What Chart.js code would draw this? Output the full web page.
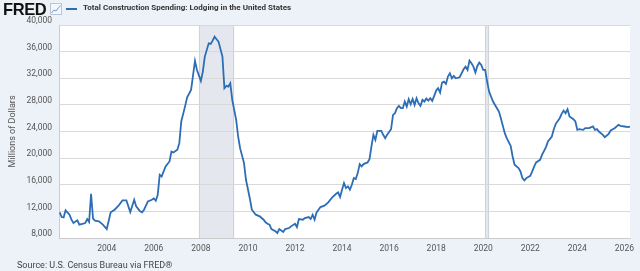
<!DOCTYPE html>
<html>
<head>
<meta charset="utf-8">
<script src="https://cdn.jsdelivr.net/npm/chart.js@4.4.1/dist/chart.umd.min.js"></script>
<style>
    html, body { margin: 0; padding: 0; background: #edf1f8; }
    body { width: 640px; height: 271px; position: relative; overflow: hidden; font-family: Roboto, "Noto Sans", sans-serif; }
    #chartLodging { position: absolute; left: 0; top: 0; }
    .logo { position: absolute; left: 3px; top: 0px; font: bold 16.5px "Liberation Sans", Arial, sans-serif; letter-spacing: -0.4px; color: #111; }
    .icon { position: absolute; left: 50px; top: 3px; }
    .legend-line { position: absolute; left: 66px; top: 8px; width: 11px; height: 2px; background: #2d6db5; }
    .title { position: absolute; left: 83px; top: 3px; font: bold 8px Roboto, sans-serif; color: #333; white-space: nowrap; }
    .source { position: absolute; left: 17px; top: 260px; font: 9px Roboto, sans-serif; color: #444; white-space: nowrap; }
</style>
</head>
<body>
<canvas id="chartLodging" width="640" height="271"></canvas>
<div class="logo">FRED</div>
<svg class="icon" width="12" height="12" viewBox="0 0 12 12">
    <rect x="0.5" y="0.5" width="11" height="11" fill="#f4f7fb" stroke="#b9c6d6"/>
    <polyline points="1.5,10 4,7 6,8 10.5,2.5" fill="none" stroke="#6d9ccf" stroke-width="1"/>
</svg>
<div class="legend-line"></div>
<div class="title">Total Construction Spending: Lodging in the United States</div>
<div class="source">Source: U.S. Census Bureau via FRED®</div>

<script>
const months = [
    "2002-01","2002-02","2002-03","2002-04","2002-06","2002-07","2002-08","2002-10","2002-11",
    "2003-01","2003-02","2003-03","2003-04","2003-05","2003-06","2003-07","2003-09","2003-11",
    "2004-01","2004-03","2004-05","2004-07","2004-09","2004-11",
    "2005-01","2005-03","2005-04","2005-06","2005-07","2005-08","2005-10","2005-12",
    "2006-01","2006-02","2006-03","2006-04","2006-05","2006-07","2006-09","2006-10","2006-11",
    "2007-01","2007-02","2007-03","2007-05","2007-06","2007-08","2007-10","2007-11",
    "2008-01","2008-02","2008-03","2008-05","2008-06","2008-07","2008-08","2008-09","2008-10","2008-12",
    "2009-01","2009-02","2009-03","2009-04","2009-05","2009-07","2009-08","2009-09","2009-11","2009-12",
    "2010-02","2010-03","2010-05","2010-07","2010-09","2010-10","2010-11","2010-12",
    "2011-01","2011-03","2011-04","2011-05","2011-07","2011-08","2011-10","2011-11",
    "2012-01","2012-02","2012-03","2012-05","2012-06","2012-08","2012-09","2012-10","2012-11","2012-12",
    "2013-02","2013-04","2013-06","2013-07","2013-08","2013-10","2013-11","2013-12",
    "2014-01","2014-02","2014-03","2014-04","2014-05","2014-06","2014-07","2014-08","2014-09","2014-10","2014-11","2014-12",
    "2015-02","2015-03","2015-04","2015-05","2015-06","2015-07","2015-09","2015-10","2015-11","2015-12",
    "2016-02","2016-03","2016-04","2016-05","2016-06","2016-07","2016-08","2016-09","2016-10","2016-11","2016-12",
    "2017-01","2017-02","2017-03","2017-04","2017-05","2017-06","2017-07","2017-08","2017-09","2017-10","2017-11","2017-12",
    "2018-01","2018-02","2018-03","2018-04","2018-05","2018-06","2018-07","2018-08","2018-09","2018-10","2018-11",
    "2019-01","2019-03","2019-04","2019-05","2019-06","2019-07","2019-08","2019-09","2019-10","2019-11","2019-12",
    "2020-01","2020-02","2020-03","2020-04","2020-05","2020-06","2020-08","2020-09","2020-10","2020-11","2020-12",
    "2021-01","2021-03","2021-04","2021-05","2021-07","2021-08","2021-09","2021-10","2021-11",
    "2022-01","2022-02","2022-03","2022-04","2022-06","2022-07","2022-09","2022-10","2022-12",
    "2023-01","2023-02","2023-04","2023-05","2023-06","2023-07","2023-08","2023-09","2023-11","2023-12",
    "2024-01","2024-02","2024-04","2024-05","2024-07","2024-09","2024-10","2024-11","2024-12",
    "2025-02","2025-03","2025-05","2025-06","2025-08","2025-10","2025-11",
    "2026-01","2026-03","2026-04"
];

const spending = [
    11850,11150,11100,12150,11500,10750,10250,10650,10000,
    10150,10250,10850,10400,14650,10900,10600,10500,10000,
    9350,11850,12250,12850,13650,13650,
    11900,13750,12750,12000,11850,12250,13500,13750,
    13950,13600,14500,17500,17250,18750,19500,21000,20850,
    21250,22250,25500,27850,29150,30250,34600,33250,
    31600,33000,35250,37250,37150,37650,38250,37850,37500,35250,
    30500,30850,30750,31250,28750,25750,23250,21500,19250,16750,
    13900,12250,11500,11250,10750,10350,10150,10000,
    9350,9000,8750,9350,8900,9350,9500,9750,
    10150,9650,10850,10750,11000,11150,10850,11500,10750,11850,
    12650,12850,13350,13750,14100,14650,14850,14150,
    15250,16250,15500,15750,15250,16000,17000,16850,17750,19100,18750,19100,
    19350,19850,21750,23500,22750,24100,24100,23500,23000,23500,
    24350,26500,26750,27500,27850,27500,27500,28500,27750,28850,28100,
    28900,28000,29000,28250,27850,28750,28500,28950,28650,29000,28600,29350,
    30150,30500,29850,31350,31500,31150,32250,32750,32000,32350,32000,
    32150,33350,33750,33250,34650,34250,33750,32850,33850,34350,34000,
    33250,33250,31500,30000,29250,28500,27500,27000,26000,24850,23750,
    23000,21850,20250,19000,18500,18000,17000,16650,17000,
    17350,18000,18750,19350,19750,20500,21650,22500,23250,
    24350,25150,26000,26650,27150,26750,27350,26250,25850,25500,
    24250,24350,24250,24500,24500,24750,24250,24350,24000,
    23500,23150,23650,24150,24500,25000,24850,
    24750,24650,24750
];

const recessions = [["2007-12", "2009-06"], ["2020-02", "2020-04"]];
const yearTicks = [2004, 2006, 2008, 2010, 2012, 2014, 2016, 2018, 2020, 2022, 2024, 2026];
const yMin = 8000, yMax = 40000, yStep = 4000;

function toYear(m) {
    const [y, mo] = m.split("-").map(Number);
    return y + (mo - 1) / 12;
}

const points = months.map((m, i) => ({ x: toYear(m), y: spending[i] }));

const backdrop = {
    id: "backdrop",
    beforeDraw(chart) {
        const { ctx, chartArea: a, scales } = chart;
        ctx.save();
        ctx.fillStyle = "#ffffff";
        ctx.fillRect(a.left, a.top, a.right - a.left, a.bottom - a.top);
        recessions.forEach(([s, e]) => {
            const x0 = scales.x.getPixelForValue(toYear(s));
            const x1 = scales.x.getPixelForValue(toYear(e));
            ctx.fillStyle = "#e4e7ed";
            ctx.fillRect(x0, a.top, x1 - x0, a.bottom - a.top);
            ctx.strokeStyle = "#cdd1d8";
            ctx.lineWidth = 1;
            ctx.beginPath();
            ctx.moveTo(Math.round(x0) + 0.5, a.top);
            ctx.lineTo(Math.round(x0) + 0.5, a.bottom);
            ctx.moveTo(Math.round(x1) - 0.5, a.top);
            ctx.lineTo(Math.round(x1) - 0.5, a.bottom);
            ctx.stroke();
        });
        ctx.restore();
    }
};

new Chart(document.getElementById("chartLodging"), {
    type: "line",
    data: {
        datasets: [{
            label: "Total Construction Spending: Lodging in the United States",
            data: points,
            borderColor: "#2d6db5",
            borderWidth: 1.8,
            pointRadius: 0,
            tension: 0,
            fill: false
        }]
    },
    options: {
        responsive: false,
        animation: false,
        events: [],
        layout: { padding: { left: 0, top: 25, right: 6, bottom: 0 } },
        plugins: {
            legend: { display: false },
            tooltip: { enabled: false }
        },
        scales: {
            x: {
                type: "linear",
                min: 2001.97,
                max: 2026.24,
                afterBuildTicks: scale => { scale.ticks = yearTicks.map(v => ({ value: v })); },
                afterFit: scale => { scale.height = 33; },
                grid: { display: false, drawTicks: false },
                border: { display: true, color: "#cccccc" },
                ticks: {
                    padding: 6,
                    color: "#555555",
                    font: { family: "Roboto", size: 8.5 },
                    maxRotation: 0,
                    autoSkip: false,
                    callback: v => String(v)
                }
            },
            y: {
                min: yMin,
                max: yMax,
                afterFit: scale => { scale.width = 59; },
                grid: { color: "#d9d9d9", drawTicks: false },
                border: { display: true, color: "#cccccc" },
                ticks: {
                    stepSize: yStep,
                    padding: 7,
                    labelOffset: -4,
                    color: "#555555",
                    font: { family: "Roboto", size: 8.5 },
                    callback: v => v.toLocaleString("en-US")
                },
                title: {
                    display: true,
                    text: "Millions of Dollars",
                    color: "#555555",
                    font: { family: "Roboto", size: 9 },
                    padding: { top: 7, bottom: 0 }
                }
            }
        }
    },
    plugins: [backdrop]
});
</script>
</body>
</html>
